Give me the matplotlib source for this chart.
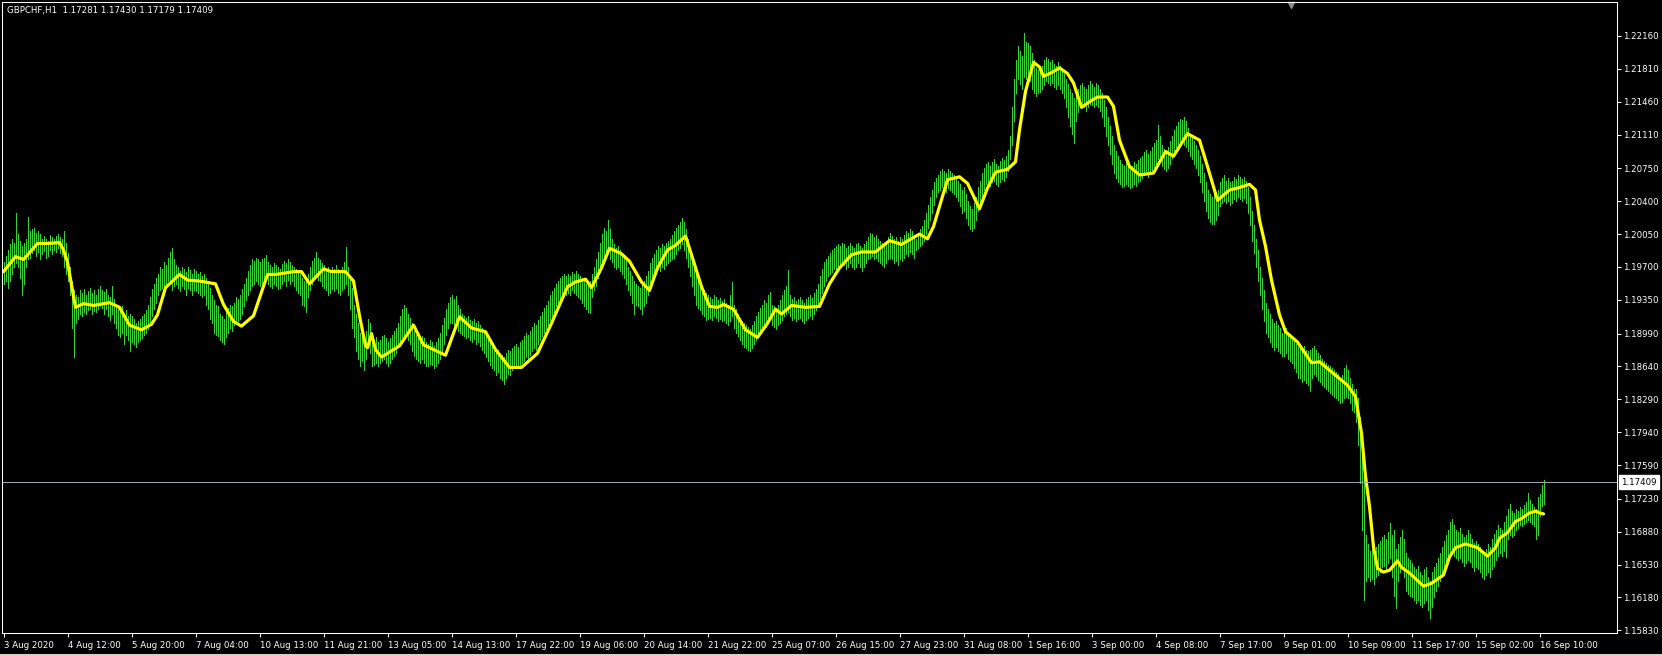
import numpy as np
import matplotlib
matplotlib.use("Agg")
import matplotlib.pyplot as plt
from matplotlib.lines import Line2D
from matplotlib.transforms import blended_transform_factory

# цены хранятся в пунктах над 1.15000 (1 пункт = 0.0001), один бар = 1 час
BASE = 1.15

# максимумы баров, по 32 бара в строке (между подписями времени)
highs = [
    475, 482, 488, 494, 500, 496, 528, 505, 498, 492, 495, 500, 523, 508, 510, 512, 506, 508, 505, 500, 503, 500, 498, 504, 502, 500, 503, 505, 502, 500, 508, 496,
    485, 470, 455, 445, 440, 438, 445, 442, 446, 440, 444, 448, 442, 445, 440, 446, 450, 445, 443, 447, 440, 438, 450, 436, 430, 425, 422, 428, 420, 424, 418, 420,
    418, 415, 410, 412, 415, 418, 420, 424, 430, 438, 446, 452, 458, 462, 470, 468, 475, 472, 480, 486, 490, 478, 472, 470, 466, 470, 468, 465, 470, 467, 463, 468,
    466, 462, 465, 460, 463, 458, 452, 448, 440, 435, 430, 428, 420, 418, 415, 422, 426, 430, 428, 432, 438, 436, 440, 446, 452, 458, 466, 472, 478, 476, 480, 478,
    475, 478, 480, 483, 475, 472, 470, 474, 472, 470, 468, 473, 476, 474, 479, 475, 472, 470, 468, 466, 462, 458, 455, 458, 462, 470, 476, 480, 486, 480, 477, 474,
    472, 468, 470, 466, 470, 468, 472, 468, 465, 470, 475, 491, 470, 460, 448, 430, 420, 410, 400, 396, 392, 402, 415, 410, 395, 392, 395, 390, 392, 396, 398, 394,
    390, 394, 398, 402, 405, 410, 418, 425, 429, 426, 420, 416, 410, 402, 398, 395, 392, 396, 394, 390, 388, 392, 390, 386, 390, 394, 400, 408, 416, 425, 432, 438,
    440, 436, 439, 430, 425, 420, 418, 416, 418, 414, 412, 415, 410, 412, 408, 405, 400, 398, 394, 390, 388, 384, 380, 382, 378, 376, 374, 378, 382, 380, 384, 386,
    388, 385, 390, 392, 396, 400, 398, 402, 406, 410, 408, 414, 418, 422, 426, 430, 434, 440, 444, 448, 452, 455, 458, 460, 462, 460, 463, 460, 465, 462, 466, 462,
    460, 458, 455, 452, 450, 455, 462, 470, 478, 486, 495, 505, 512, 508, 520, 510, 500, 494, 490, 492, 488, 485, 482, 478, 470, 466, 460, 455, 452, 450, 448, 452,
    455, 460, 466, 474, 480, 484, 488, 492, 490, 494, 492, 496, 498, 500, 504, 508, 512, 515, 518, 522, 518, 510, 500, 490, 480, 470, 462, 455, 450, 448, 445, 442,
    440, 438, 436, 440, 438, 435, 437, 434, 436, 432, 430, 440, 454, 430, 425, 420, 416, 412, 410, 408, 406, 404, 408, 412, 418, 422, 426, 430, 435, 432, 440, 443,
    430, 428, 425, 430, 435, 440, 445, 450, 467, 440, 436, 438, 434, 436, 438, 435, 432, 436, 438, 440, 437, 442, 446, 452, 460, 468, 475, 478, 482, 485, 488, 490,
    492, 494, 492, 496, 494, 490, 492, 495, 492, 490, 494, 496, 492, 490, 494, 498, 502, 506, 505, 502, 504, 500, 498, 496, 494, 498, 502, 506, 503, 500, 502, 498,
    502, 500, 504, 508, 506, 510, 508, 504, 500, 506, 510, 514, 520, 528, 536, 545, 552, 560, 565, 568, 572, 574, 572, 570, 574, 572, 570, 568, 566, 562, 558, 552,
    555, 548, 540, 535, 532, 538, 545, 555, 562, 570, 575, 580, 582, 578, 582, 585, 580, 578, 583, 586, 584, 588, 595, 610, 640, 670, 690, 705, 700, 695, 719, 710,
    708, 705, 698, 690, 682, 680, 678, 684, 690, 694, 692, 688, 690, 686, 684, 688, 684, 680, 676, 670, 665, 660, 655, 650, 656, 660, 664, 666, 662, 660, 664, 668,
    665, 662, 666, 664, 660, 655, 648, 640, 630, 620, 610, 600, 594, 588, 584, 580, 578, 582, 580, 576, 578, 582, 580, 584, 586, 588, 592, 595, 590, 594, 598, 602,
    605, 621, 610, 600, 596, 592, 598, 604, 610, 616, 620, 624, 628, 626, 630, 625, 618, 612, 608, 604, 600, 595, 588, 580, 570, 560, 552, 548, 545, 548, 550, 552,
    560, 565, 568, 562, 565, 560, 562, 566, 564, 568, 566, 564, 566, 562, 555, 545, 530, 515, 500, 488, 470, 458, 445, 432, 425, 420, 415, 410, 412, 408, 405, 400,
    402, 405, 400, 398, 396, 392, 388, 385, 388, 384, 386, 382, 380, 382, 384, 386, 382, 378, 376, 372, 370, 368, 366, 364, 362, 360, 358, 356, 352, 355, 362, 366,
    360, 352, 345, 340, 340, 330, 310, 290, 270, 185, 175, 168, 170, 165, 172, 175, 178, 182, 185, 180, 188, 197, 185, 190, 170, 175, 182, 190, 180, 165, 160, 158,
    155, 150, 148, 152, 145, 142, 148, 150, 140, 135, 145, 150, 155, 160, 165, 172, 178, 185, 190, 198, 202, 195, 190, 188, 192, 186, 182, 185, 190, 186, 180, 176,
    178, 175, 172, 168, 165, 170, 175, 172, 180, 186, 190, 195, 192, 190, 198, 205, 212, 218, 210, 208, 212, 210, 214, 212, 216, 220, 229, 222, 218, 214, 212, 225,
    228, 238, 243,
]

# минимумы баров
lows = [
    452, 455, 448, 455, 462, 470, 474, 470, 458, 440, 452, 470, 478, 480, 485, 488, 482, 486, 478, 484, 487, 480, 482, 488, 484, 488, 486, 490, 485, 482, 470, 462,
    455, 440, 405, 374, 410, 415, 420, 418, 422, 420, 424, 425, 420, 423, 422, 425, 428, 426, 420, 425, 418, 414, 420, 410, 405, 398, 395, 400, 388, 398, 392, 380,
    390, 388, 385, 390, 392, 394, 398, 400, 404, 410, 418, 425, 432, 440, 445, 448, 450, 448, 455, 452, 445, 450, 452, 448, 444, 450, 446, 440, 448, 445, 440, 445,
    444, 442, 440, 438, 440, 430, 425, 415, 410, 400, 398, 396, 392, 390, 388, 395, 400, 405, 402, 408, 410, 412, 415, 420, 428, 435, 440, 445, 450, 452, 455, 452,
    450, 452, 455, 458, 452, 450, 448, 452, 450, 446, 448, 452, 455, 450, 456, 452, 455, 450, 445, 442, 440, 430, 428, 422, 438, 445, 452, 458, 460, 456, 455, 450,
    448, 445, 440, 442, 446, 444, 448, 442, 440, 445, 448, 452, 440, 425, 405, 395, 380, 372, 365, 370, 360, 372, 385, 378, 365, 366, 368, 365, 368, 370, 372, 368,
    365, 368, 372, 375, 378, 385, 390, 395, 398, 396, 392, 388, 380, 375, 372, 370, 368, 372, 368, 365, 364, 367, 366, 362, 364, 368, 372, 380, 388, 398, 405, 410,
    410, 408, 405, 402, 400, 398, 396, 394, 395, 392, 390, 393, 388, 390, 386, 382, 378, 374, 370, 366, 362, 360, 355, 358, 352, 350, 345, 352, 356, 355, 360, 362,
    364, 362, 366, 368, 370, 374, 372, 376, 380, 384, 382, 388, 392, 396, 400, 404, 408, 414, 418, 422, 428, 432, 436, 440, 442, 440, 442, 440, 445, 442, 440, 438,
    436, 432, 428, 425, 422, 421, 438, 445, 450, 458, 465, 472, 480, 482, 485, 478, 475, 470, 468, 470, 466, 462, 458, 452, 445, 440, 432, 420, 430, 428, 425, 420,
    428, 432, 440, 446, 452, 458, 462, 468, 466, 470, 468, 472, 474, 476, 478, 480, 484, 488, 490, 494, 488, 480, 470, 460, 450, 440, 430, 426, 424, 420, 418, 414,
    415, 416, 414, 418, 416, 412, 415, 412, 414, 410, 408, 412, 418, 405, 400, 396, 392, 388, 385, 384, 382, 380, 384, 388, 392, 396, 400, 404, 408, 406, 412, 415,
    408, 406, 404, 408, 410, 414, 418, 420, 422, 418, 414, 416, 412, 415, 416, 412, 410, 414, 416, 418, 415, 420, 424, 430, 436, 442, 450, 455, 460, 462, 465, 468,
    468, 470, 472, 474, 472, 468, 470, 474, 470, 468, 470, 474, 470, 466, 470, 474, 478, 480, 482, 478, 480, 476, 474, 472, 470, 474, 478, 480, 478, 474, 476, 472,
    478, 476, 480, 484, 482, 486, 484, 480, 488, 490, 492, 494, 498, 505, 512, 520, 528, 536, 545, 550, 552, 555, 552, 550, 554, 552, 550, 548, 545, 540, 535, 528,
    530, 522, 515, 510, 508, 512, 520, 530, 538, 545, 552, 558, 560, 556, 560, 562, 558, 556, 560, 564, 562, 566, 572, 585, 600, 625, 655, 670, 665, 660, 672, 670,
    672, 668, 660, 655, 652, 655, 656, 660, 664, 668, 666, 664, 666, 662, 660, 664, 660, 655, 650, 640, 630, 620, 612, 602, 625, 635, 640, 642, 640, 636, 640, 644,
    642, 640, 643, 640, 636, 630, 620, 610, 600, 590, 580, 570, 565, 560, 558, 555, 556, 558, 556, 554, 555, 558, 556, 560, 562, 565, 568, 570, 566, 570, 572, 576,
    578, 585, 582, 578, 574, 572, 575, 580, 586, 592, 598, 600, 604, 602, 600, 598, 594, 588, 585, 580, 575, 568, 560, 550, 540, 530, 522, 518, 516, 516, 520, 525,
    535, 538, 540, 538, 540, 536, 538, 542, 540, 544, 542, 540, 543, 538, 528, 515, 498, 485, 470, 455, 440, 425, 412, 400, 395, 390, 385, 382, 385, 380, 378, 375,
    375, 378, 372, 370, 368, 362, 358, 352, 352, 348, 350, 346, 344, 338, 352, 356, 354, 350, 348, 344, 342, 340, 338, 336, 334, 332, 330, 328, 325, 326, 330, 332,
    330, 325, 318, 315, 305, 280, 240, 190, 115, 135, 140, 135, 138, 132, 140, 142, 145, 150, 152, 148, 155, 160, 140, 120, 107, 135, 145, 150, 140, 125, 122, 120,
    118, 115, 112, 115, 110, 108, 112, 115, 105, 96, 108, 118, 125, 130, 135, 140, 146, 152, 158, 162, 165, 162, 160, 158, 160, 156, 152, 155, 158, 156, 150, 146,
    150, 148, 145, 140, 138, 142, 145, 140, 148, 152, 158, 162, 165, 162, 168, 161, 180, 185, 182, 185, 190, 192, 195, 194, 196, 198, 200, 198, 196, 194, 180, 185,
    205, 215, 218,
]

# сглаженная средняя (жёлтая линия): номер бара и значение в пунктах
ma_bar = [0, 6, 10, 17, 22, 28, 30, 32, 34, 36, 40, 45, 53, 58, 63, 69, 74, 77, 81, 88,
          92, 98, 106, 110, 115, 119, 125, 128, 132, 136, 145, 149, 153, 160, 164, 171, 175, 178, 181, 182,
          184, 186, 189, 198, 205, 210, 221, 228, 234, 241, 246, 253, 259, 267, 274, 282, 286, 291, 294, 299,
          303, 309, 313, 319, 323, 327, 332, 336, 341, 344, 349, 353, 357, 360, 365, 371, 377, 382, 386, 389,
          394, 401, 408, 413, 418, 424, 429, 436, 443, 449, 458, 462, 465, 472, 478, 482, 488, 492, 496, 502,
          506, 508, 511, 515, 518, 520, 524, 528, 532, 535, 539, 543, 547, 552, 555, 558, 563, 568, 575, 581,
          585, 592, 598, 602, 607, 613, 617, 623, 626, 628, 631, 634, 638, 641, 647, 654, 658, 663, 672, 676,
          679, 681, 683, 685, 687, 690, 693, 697, 699, 703, 710, 714, 720, 723, 726, 731, 737, 742, 746, 748,
          752, 756, 759, 763, 766, 768, 770]
ma_pips = [465, 481, 478, 495, 495, 496, 488, 475, 451, 427, 431, 429, 432, 427, 408, 403, 409, 419, 448, 462,
           456, 455, 452, 430, 412, 407, 418, 437, 462, 462, 465, 465, 452, 468, 465, 465, 455, 418, 386, 384,
           399, 382, 374, 386, 408, 387, 376, 417, 405, 401, 382, 363, 363, 378, 410, 449, 454, 457, 448, 469,
           490, 484, 476, 454, 445, 469, 488, 493, 503, 483, 449, 428, 427, 430, 425, 403, 395, 410, 425, 420,
           429, 427, 428, 452, 469, 483, 486, 486, 498, 494, 505, 500, 513, 563, 566, 559, 532, 554, 571, 574,
           582, 616, 657, 688, 683, 673, 677, 682, 676, 666, 640, 646, 651, 651, 641, 605, 577, 568, 570, 593,
           588, 612, 605, 577, 541, 552, 554, 558, 552, 520, 492, 456, 419, 401, 390, 368, 369, 360, 344, 332,
           293, 247, 215, 172, 149, 145, 147, 157, 150, 144, 130, 133, 142, 161, 171, 175, 171, 162, 171, 181,
           187, 199, 202, 208, 210, 208, 207]

time_labels = ["3 Aug 2020", "4 Aug 12:00", "5 Aug 20:00", "7 Aug 04:00", "10 Aug 13:00",
               "11 Aug 21:00", "13 Aug 05:00", "14 Aug 13:00", "17 Aug 22:00", "19 Aug 06:00",
               "20 Aug 14:00", "21 Aug 22:00", "25 Aug 07:00", "26 Aug 15:00", "27 Aug 23:00",
               "31 Aug 08:00", "1 Sep 16:00", "3 Sep 00:00", "4 Sep 08:00", "7 Sep 17:00",
               "9 Sep 01:00", "10 Sep 09:00", "11 Sep 17:00", "15 Sep 02:00", "16 Sep 10:00"]
bars_per_label = 32

price_ticks = [1.22160, 1.21810, 1.21460, 1.21110, 1.20750, 1.20400, 1.20050, 1.19700,
               1.19350, 1.18990, 1.18640, 1.18290, 1.17940, 1.17590, 1.17230, 1.16880,
               1.16530, 1.16180, 1.15830]
last_price = 1.17409
header = "GBPCHF,H1  1.17281 1.17430 1.17179 1.17409"

FS = 6.2
W, H = 1662, 656
fig = plt.figure(figsize=(W / 100, H / 100), dpi=100, facecolor="black")
ax = fig.add_axes([2 / W, 23 / H, 1615 / W, 631 / H])
ax.set_facecolor("black")

hi = BASE + np.array(highs) / 10000
lo = BASE + np.array(lows) / 10000
idx = np.arange(len(hi))
ax.vlines(idx, lo, hi, colors="#36d236", linewidth=0.72, antialiased=False)

ma = BASE + np.array(ma_pips) / 10000
ax.plot(ma_bar, ma, color="#ffff00", lw=2.3, solid_joinstyle="round", solid_capstyle="round")

ax.axhline(last_price, color="#9ea4ac", lw=0.72)

ax.set_xlim(-0.75, 806.75)
ax.set_ylim(1.158014, 1.22522)

# ось цен справа
ax.yaxis.tick_right()
ax.set_yticks(price_ticks)
ax.set_yticklabels([f"{v:.5f}" for v in price_ticks])
ax.tick_params(axis="y", colors="white", length=3, width=0.75, pad=1.5, labelsize=FS)

# ось времени
ax.set_xticks(np.arange(len(time_labels)) * bars_per_label)
ax.set_xticklabels(time_labels, ha="left")
ax.tick_params(axis="x", colors="white", length=3, width=0.75, pad=2.5, labelsize=FS)

for s in ax.spines.values():
    s.set_color("white")
    s.set_linewidth(0.75)

# метка текущей цены
tr = blended_transform_factory(ax.transAxes, ax.transData)
ax.text(1 + 4 / 1615, last_price, f"{last_price:.5f}", transform=tr, ha="left", va="center",
        fontsize=FS, color="black", clip_on=False,
        bbox=dict(boxstyle="square,pad=0.25", facecolor="white", edgecolor="white"))

# маркер сдвига графика
ax.plot([0.798], [1 - 3 / 631], marker="v", color="#8c8c8c", ms=5, transform=ax.transAxes, clip_on=False)

fig.text(7 / W, 1 - 10.5 / H, header, ha="left", va="center", color="white", fontsize=FS)
fig.add_artist(Line2D([0, 1], [1 / H, 1 / H], color="#d4d0c8", lw=1.5, transform=fig.transFigure))

fig.savefig("out.png", dpi=100, facecolor="black")
